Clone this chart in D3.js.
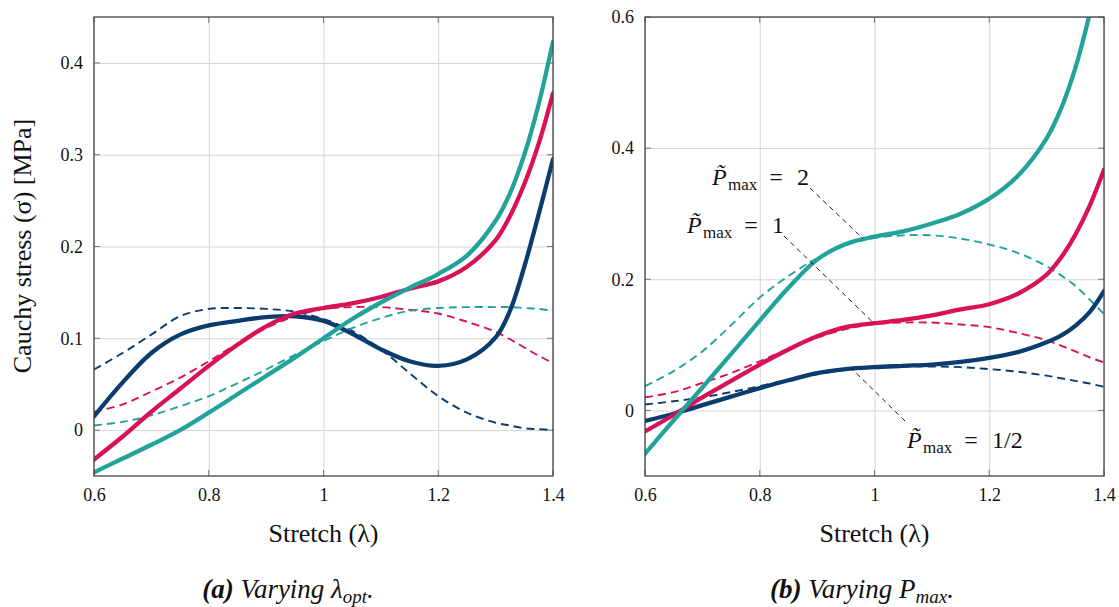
<!DOCTYPE html>
<html>
<head>
<meta charset="utf-8">
<script src="https://cdn.jsdelivr.net/npm/d3@7"></script>
<style>
  body { margin: 0; background: #fff; }
  svg { display: block; }
</style>
</head>
<body>
<svg id="chart" width="1119" height="607" font-family="Liberation Serif"></svg>
<script>
// stretch values where the curves were read
const lambda = [0.6, 0.65, 0.7, 0.75, 0.8, 0.85, 0.9, 0.95, 1.0, 1.05, 1.1, 1.15, 1.2, 1.25, 1.3, 1.325, 1.35, 1.375, 1.4];
const xTicks = [0.6, 0.8, 1, 1.2, 1.4];
const yTicksA = [0, 0.1, 0.2, 0.3, 0.4];
const yTicksB = [0, 0.2, 0.4, 0.6];

// (a) varying lambda_opt
const aNavySolid = [0.015, 0.052, 0.084, 0.104, 0.114, 0.119, 0.123, 0.124, 0.119, 0.105, 0.088, 0.075, 0.070, 0.077, 0.101, 0.130, 0.178, 0.235, 0.295];
const aPinkSolid = [-0.032, -0.007, 0.020, 0.045, 0.070, 0.093, 0.113, 0.127, 0.133, 0.138, 0.145, 0.154, 0.162, 0.178, 0.207, 0.233, 0.268, 0.312, 0.367];
const aTealSolid = [-0.046, -0.031, -0.016, 0.000, 0.019, 0.039, 0.059, 0.079, 0.100, 0.121, 0.139, 0.155, 0.170, 0.190, 0.228, 0.258, 0.300, 0.355, 0.423];
const aNavyDash = [0.066, 0.084, 0.104, 0.124, 0.132, 0.133, 0.132, 0.129, 0.121, 0.108, 0.088, 0.062, 0.037, 0.019, 0.008, 0.005, 0.002, 0.001, 0.000];
const aPinkDash = [0.020, 0.028, 0.042, 0.057, 0.075, 0.094, 0.111, 0.124, 0.132, 0.134, 0.134, 0.131, 0.127, 0.118, 0.107, 0.099, 0.090, 0.081, 0.073];
const aTealDash = [0.005, 0.009, 0.016, 0.026, 0.037, 0.051, 0.066, 0.082, 0.097, 0.111, 0.122, 0.130, 0.133, 0.134, 0.134, 0.134, 0.133, 0.132, 0.130];

// (b) varying P_max
const bNavySolid = [-0.016, -0.005, 0.008, 0.021, 0.034, 0.046, 0.057, 0.063, 0.066, 0.068, 0.070, 0.074, 0.080, 0.089, 0.104, 0.114, 0.129, 0.150, 0.182];
const bPinkSolid = [-0.032, -0.007, 0.020, 0.045, 0.070, 0.093, 0.113, 0.127, 0.133, 0.138, 0.145, 0.154, 0.162, 0.178, 0.207, 0.233, 0.268, 0.312, 0.367];
const bTealSolid = [-0.066, -0.015, 0.035, 0.086, 0.137, 0.187, 0.230, 0.254, 0.265, 0.273, 0.285, 0.300, 0.323, 0.358, 0.415, 0.460, 0.522, 0.605, 0.710];
const bNavyDash = [0.009, 0.014, 0.020, 0.028, 0.037, 0.047, 0.055, 0.062, 0.066, 0.067, 0.067, 0.066, 0.063, 0.059, 0.053, 0.049, 0.045, 0.041, 0.036];
const bPinkDash = [0.020, 0.028, 0.042, 0.057, 0.075, 0.094, 0.111, 0.124, 0.132, 0.134, 0.134, 0.131, 0.127, 0.118, 0.107, 0.099, 0.090, 0.081, 0.073];
const bTealDash = [0.037, 0.060, 0.090, 0.130, 0.172, 0.205, 0.232, 0.252, 0.263, 0.267, 0.267, 0.262, 0.253, 0.240, 0.220, 0.206, 0.190, 0.169, 0.147];

// annotations in panel (b): label value and the (lambda, sigma) point the leader touches
const annLabels = ["2", "1", "1/2"];
const annTargets = [[0.98, 0.262], [1.0, 0.132], [0.96, 0.064]];

const navy = "#0b3c6e", pink = "#d81159", teal = "#21a39c";
const serif = "Liberation Serif";

const svg = d3.select("#chart");
const fmt = d3.format("~g");

function drawPanel(p) {
    const g = svg.append("g").attr("transform", `translate(${p.left},${p.top})`);
    const w = p.size, h = p.size;
    const x = d3.scaleLinear().domain([0.6, 1.4]).range([0, w]);
    const y = d3.scaleLinear().domain(p.yDomain).range([h, 0]);

    // grid
    g.append("g").attr("transform", `translate(0,${h})`)
        .call(d3.axisBottom(x).tickValues(xTicks).tickSize(-h).tickFormat(""))
        .call(a => a.select(".domain").remove())
        .selectAll("line").attr("stroke", "#d4d4d4").attr("stroke-width", 1);
    g.append("g")
        .call(d3.axisLeft(y).tickValues(p.yTicks).tickSize(-w).tickFormat(""))
        .call(a => a.select(".domain").remove())
        .selectAll("line").attr("stroke", "#d4d4d4").attr("stroke-width", 1);

    // small inward ticks on the frame
    const tk = 6;
    xTicks.forEach(v => {
        g.append("line").attr("x1", x(v)).attr("x2", x(v)).attr("y1", h).attr("y2", h - tk).attr("stroke", "#777");
        g.append("line").attr("x1", x(v)).attr("x2", x(v)).attr("y1", 0).attr("y2", tk).attr("stroke", "#777");
    });
    p.yTicks.forEach(v => {
        g.append("line").attr("y1", y(v)).attr("y2", y(v)).attr("x1", 0).attr("x2", tk).attr("stroke", "#777");
        g.append("line").attr("y1", y(v)).attr("y2", y(v)).attr("x1", w).attr("x2", w - tk).attr("stroke", "#777");
    });

    // tick labels
    g.append("g").attr("transform", `translate(0,${h})`)
        .call(d3.axisBottom(x).tickValues(xTicks).tickSize(0).tickPadding(12).tickFormat(fmt))
        .attr("font-family", serif).attr("font-size", 18)
        .call(a => a.select(".domain").remove())
        .selectAll("text").attr("fill", "#111");
    g.append("g")
        .call(d3.axisLeft(y).tickValues(p.yTicks).tickSize(0).tickPadding(11).tickFormat(fmt))
        .attr("font-family", serif).attr("font-size", 18)
        .call(a => a.select(".domain").remove())
        .selectAll("text").attr("fill", "#111");

    // curves
    const clipId = "clip" + p.id;
    g.append("clipPath").attr("id", clipId).append("rect").attr("width", w).attr("height", h);
    const line = d3.line().x((d, i) => x(lambda[i])).y(d => y(d)).curve(d3.curveCatmullRom.alpha(0.5));
    const cg = g.append("g").attr("clip-path", `url(#${clipId})`);
    p.series.forEach(s => {
        cg.append("path").attr("d", line(s.values))
            .attr("fill", "none").attr("stroke", s.color)
            .attr("stroke-width", s.dashed ? 1.9 : 4.3)
            .attr("stroke-dasharray", s.dashed ? "8,5" : null)
            .attr("stroke-linecap", s.dashed ? "butt" : "round");
    });

    // frame
    g.append("rect").attr("width", w).attr("height", h)
        .attr("fill", "none").attr("stroke", "#444").attr("stroke-width", 1.3);

    // x title
    g.append("text").attr("x", w / 2).attr("y", h + 66).attr("text-anchor", "middle")
        .attr("font-family", serif).attr("font-size", 26).attr("fill", "#111").text("Stretch (λ)");

    // caption
    const cap = svg.append("text").attr("x", p.capX).attr("y", 598).attr("text-anchor", "middle")
        .attr("font-family", serif).attr("font-size", 27).attr("font-style", "italic").attr("fill", "#111");
    cap.append("tspan").attr("font-weight", "bold").text(p.capTag + " ");
    cap.append("tspan").text("Varying " + p.capSym);
    cap.append("tspan").attr("font-size", 19).attr("dy", 5).text(p.capSub);
    cap.append("tspan").attr("dy", -5).text(".");

    return { g, x, y };
}

const pa = drawPanel({
    id: "a", left: 94, top: 17, size: 459, yDomain: [-0.05, 0.45], yTicks: yTicksA,
    capX: 288, capTag: "(a)", capSym: "λ", capSub: "opt",
    series: [
        { values: aNavyDash, color: navy, dashed: true },
        { values: aPinkDash, color: pink, dashed: true },
        { values: aTealDash, color: teal, dashed: true },
        { values: aNavySolid, color: navy },
        { values: aPinkSolid, color: pink },
        { values: aTealSolid, color: teal }
    ]
});

const pb = drawPanel({
    id: "b", left: 645, top: 17, size: 459, yDomain: [-0.1, 0.6], yTicks: yTicksB,
    capX: 862, capTag: "(b)", capSym: "P", capSub: "max",
    series: [
        { values: bNavyDash, color: navy, dashed: true },
        { values: bPinkDash, color: pink, dashed: true },
        { values: bTealDash, color: teal, dashed: true },
        { values: bNavySolid, color: navy },
        { values: bPinkSolid, color: pink },
        { values: bTealSolid, color: teal }
    ]
});

// y title
svg.append("text").attr("transform", "translate(31,246) rotate(-90)")
    .attr("text-anchor", "middle").attr("font-family", serif).attr("font-size", 26).attr("fill", "#111")
    .text("Cauchy stress (σ) [MPa]");

// annotations with dashed leaders (label anchors in page px)
const annPos = [[712, 185], [687, 233], [907, 448]];
const leaderFrom = [[810, 188], [784, 236], [905, 421]];
annLabels.forEach((lab, i) => {
    const [tx, ty] = annPos[i];
    const t = annTargets[i];
    const px = 645 + pb.x(t[0]), py = 17 + pb.y(t[1]);
    svg.append("line").attr("x1", leaderFrom[i][0]).attr("y1", leaderFrom[i][1])
        .attr("x2", px).attr("y2", py)
        .attr("stroke", "#000").attr("stroke-width", 0.9).attr("stroke-dasharray", "5,4");
    const a = svg.append("g").attr("font-family", serif).attr("font-size", 24).attr("fill", "#111");
    a.append("text").attr("x", tx).attr("y", ty).attr("font-style", "italic").text("P\u0303");
    a.append("text").attr("x", tx + 16).attr("y", ty + 5).attr("font-size", 17).text("max");
    a.append("text").attr("x", tx + 64).attr("y", ty).attr("text-anchor", "middle").text("=");
    a.append("text").attr("x", tx + 85).attr("y", ty).text(lab);
});
</script>
</body>
</html>
